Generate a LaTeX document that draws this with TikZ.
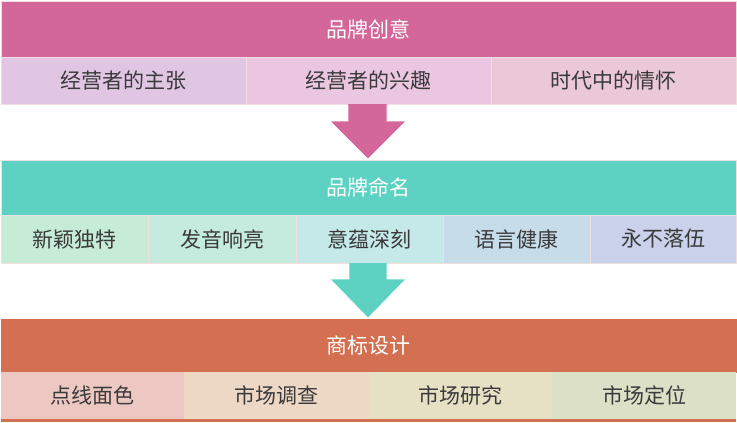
\documentclass[tikz,border=0pt]{standalone}
\usepackage{fontspec}
\newfontfamily\cjk{Noto Sans CJK SC}
\definecolor{pinkH}{HTML}{D4679A}
\definecolor{p1}{HTML}{E1C6E4}
\definecolor{p2}{HTML}{EBC6E1}
\definecolor{p3}{HTML}{EBC8D6}
\definecolor{tealH}{HTML}{5DD2C2}
\definecolor{t1}{HTML}{C6EBD6}
\definecolor{t2}{HTML}{C5EADE}
\definecolor{t3}{HTML}{C5E8E8}
\definecolor{t4}{HTML}{C6DCE8}
\definecolor{t5}{HTML}{C9D2EA}
\definecolor{orH}{HTML}{D37052}
\definecolor{o1}{HTML}{EDC8C3}
\definecolor{o2}{HTML}{EDD7C5}
\definecolor{o3}{HTML}{E6E0C5}
\definecolor{o4}{HTML}{DCE0C6}
\definecolor{txt}{HTML}{3A3A3A}
\definecolor{edge}{HTML}{F2DEDC}
\begin{document}
\begin{tikzpicture}[x=1pt,y=-1pt,
  box/.style={draw=edge, line width=0.8pt, inner sep=0pt, outer sep=0pt, font=\cjk\fontsize{21}{25}\selectfont},
  hdr/.style={box, text=white, minimum width=735pt},
  cell/.style={box, text=txt},
  blockarrow/.style={draw=white, line width=0.6pt}]
\useasboundingbox (0,0) rectangle (737,423);
% top block
\node[hdr, fill=pinkH, minimum height=56pt] (h1) at (368.5,29) {品牌创意};
\node[cell, fill=p1, minimum width=245pt, minimum height=47pt] (a1) at (123.5,80.5) {经营者的主张};
\node[cell, fill=p2, minimum width=245pt, minimum height=47pt] (a2) at (368.5,80.5) {经营者的兴趣};
\node[cell, fill=p3, minimum width=245pt, minimum height=47pt] (a3) at (613.5,80.5) {时代中的情怀};
% arrow 1
\fill[pinkH] (348,104) -- (387,104) -- (387,121) -- (406,121) -- (368,159) -- (330,121) -- (348,121) -- cycle;
\draw[blockarrow] (387,104.5) -- (387,121) -- (406,121) -- (368,159) -- (330,121) -- (348,121) -- (348,104.5);
% middle block
\node[hdr, fill=tealH, minimum height=55pt] (h2) at (368.5,187.5) {品牌命名};
\node[cell, fill=t1, minimum width=147pt, minimum height=48pt] (b1) at (74.5,239) {新颖独特};
\node[cell, fill=t2, minimum width=148pt, minimum height=48pt] (b2) at (222,239) {发音响亮};
\node[cell, fill=t3, minimum width=147pt, minimum height=48pt] (b3) at (369.5,239) {意蕴深刻};
\node[cell, fill=t4, minimum width=147pt, minimum height=48pt] (b4) at (516.5,239) {语言健康};
\node[cell, fill=t5, minimum width=146pt, minimum height=48pt] (b5) at (663,239) {永不落伍};
% arrow 2
\fill[tealH] (349,263) -- (387,263) -- (387,279) -- (406,279) -- (368,318) -- (330,279) -- (349,279) -- cycle;
\draw[blockarrow] (387,263.5) -- (387,279) -- (406,279) -- (368,318) -- (330,279) -- (349,279) -- (349,263.5);
% bottom block
\fill[orH] (1,319) rectangle (736,422);
\node[hdr, fill=orH, draw=orH, minimum height=53pt] (h3) at (368.5,345.5) {商标设计};
\node[cell, fill=o1, draw=none, minimum width=183pt, minimum height=47pt] (c1) at (92.5,395.5) {点线面色};
\node[cell, fill=o2, draw=none, minimum width=185pt, minimum height=47pt] (c2) at (276.5,395.5) {市场调查};
\node[cell, fill=o3, draw=none, minimum width=183pt, minimum height=47pt] (c3) at (460.5,395.5) {市场研究};
\node[cell, fill=o4, draw=none, minimum width=184pt, minimum height=47pt] (c4) at (644,395.5) {市场定位};
\end{tikzpicture}
\end{document}
